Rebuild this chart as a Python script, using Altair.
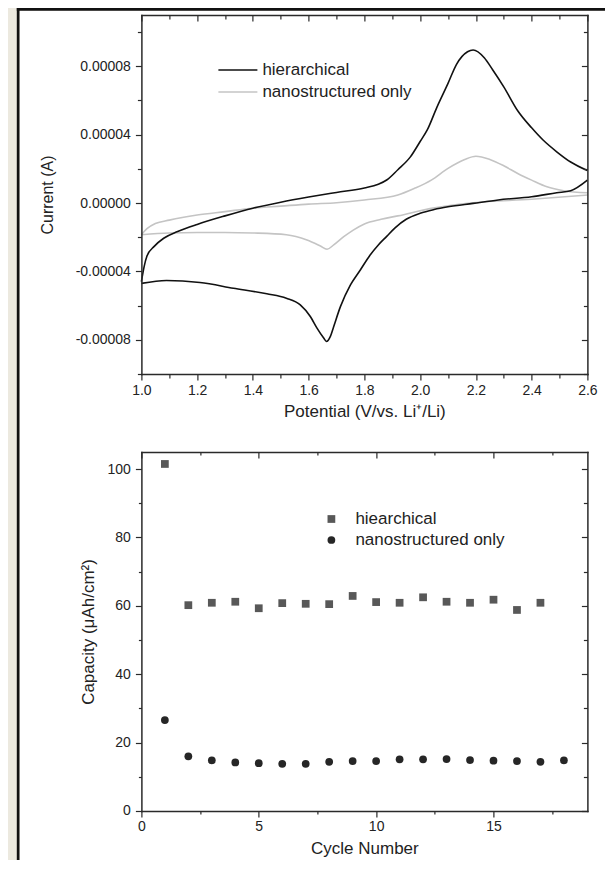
import altair as alt
import pandas as pd

# ---------------- data: cyclic voltammetry (current in units of 1e-5 A) ----------------
cv_series = ["hierarchical", "nanostructured only"]

hier_fwd_v = [1.00, 1.01, 1.02, 1.045, 1.08, 1.13, 1.20, 1.30, 1.40, 1.50, 1.60, 1.70, 1.80, 1.85, 1.88,
              1.92, 1.965, 2.00, 2.025, 2.06, 2.10, 2.13, 2.17, 2.19, 2.23, 2.26, 2.30, 2.35, 2.40, 2.44,
              2.49, 2.54, 2.60]
hier_fwd_i = [-4.6, -3.7, -3.1, -2.55, -2.06, -1.67, -1.25, -0.75, -0.3, 0.05, 0.35, 0.62, 0.88, 1.1, 1.35,
              1.95, 2.7, 3.6, 4.26, 5.6, 7.0, 8.1, 8.85, 8.95, 8.5, 7.8, 6.8, 5.4, 4.4, 3.7,
              3.0, 2.4, 1.9]

hier_rev_v = [1.00, 1.09, 1.21, 1.33, 1.45, 1.52, 1.57, 1.606, 1.63, 1.654, 1.664, 1.678, 1.69, 1.714,
              1.75, 1.786, 1.82, 1.85, 1.88, 1.91, 1.95, 2.00, 2.05, 2.10, 2.19, 2.28, 2.40, 2.49, 2.54, 2.60]
hier_rev_i = [-4.7, -4.53, -4.65, -4.98, -5.31, -5.57, -5.96, -6.64, -7.32, -7.9, -8.1, -7.8, -7.22, -6.06,
              -4.79, -3.9, -3.05, -2.45, -1.95, -1.45, -0.95, -0.6, -0.38, -0.22, -0.02, 0.18, 0.37, 0.6, 0.72,
              1.34]

nano_fwd_v = [1.00, 1.02, 1.05, 1.10, 1.20, 1.30, 1.40, 1.50, 1.60, 1.70, 1.80, 1.92, 1.98, 2.04, 2.10,
              2.16, 2.20, 2.25, 2.30, 2.35, 2.40, 2.455, 2.515, 2.60]
nano_fwd_i = [-1.85, -1.5, -1.2, -1.0, -0.7, -0.5, -0.3, -0.18, -0.06, 0.02, 0.18, 0.47, 0.86, 1.34, 2.03,
              2.55, 2.74, 2.55, 2.18, 1.73, 1.34, 0.95, 0.72, 0.6]

nano_rev_v = [1.00, 1.10, 1.20, 1.30, 1.40, 1.52, 1.594, 1.642, 1.666, 1.69, 1.726, 1.76, 1.80, 1.86,
              1.92, 2.04, 2.19, 2.40, 2.60]
nano_rev_i = [-1.85, -1.75, -1.72, -1.72, -1.75, -1.85, -2.16, -2.51, -2.7, -2.45, -1.97, -1.58, -1.22, -0.95,
              -0.75, -0.31, 0.02, 0.22, 0.47]

# ---------------- data: capacity vs cycle ----------------
cap_series = ["hiearchical", "nanostructured only"]
hier_cycles = [1, 2, 3, 4, 5, 6, 7, 8, 9, 10, 11, 12, 13, 14, 15, 16, 17]
hier_cap = [101.5, 60.2, 60.9, 61.2, 59.3, 60.8, 60.6, 60.5, 62.9, 61.1, 60.9, 62.5, 61.2, 60.9, 61.8, 58.8, 60.9]
nano_cycles = [1, 2, 3, 4, 5, 6, 7, 8, 9, 10, 11, 12, 13, 14, 15, 16, 17, 18]
nano_cap = [26.6, 16.0, 14.8, 14.2, 14.0, 13.8, 13.8, 14.4, 14.6, 14.6, 15.1, 15.1, 15.2, 14.9, 14.7, 14.6, 14.4, 14.8]

# ---------------- tick labels ----------------
cv_x_major = [1.0, 1.2, 1.4, 1.6, 1.8, 2.0, 2.2, 2.4, 2.6]
cv_x_minor = [1.1, 1.3, 1.5, 1.7, 1.9, 2.1, 2.3, 2.5]
cv_y_major = [-0.00008, -0.00004, 0.0, 0.00004, 0.00008]
cv_y_minor = [-0.0001, -0.00006, -0.00002, 0.00002, 0.00006, 0.0001]
cap_x_major = [0, 5, 10, 15]
cap_x_minor = [2.5, 7.5, 12.5, 17.5]
cap_y_major = [0, 20, 40, 60, 80, 100]
cap_y_minor = [10, 30, 50, 70, 90]

# ---------------- tables ----------------
rows = []
for s, b, vs, cs in [
    ("nanostructured only", "n_fwd", nano_fwd_v, nano_fwd_i),
    ("nanostructured only", "n_rev", nano_rev_v, nano_rev_i),
    ("hierarchical", "h_fwd", hier_fwd_v, hier_fwd_i),
    ("hierarchical", "h_rev", hier_rev_v, hier_rev_i),
]:
    for v, c in zip(vs, cs):
        rows.append({"cv_series": s, "branch": b, "V": v, "I": c * 1e-5})
cv_df = pd.DataFrame(rows)

cap_rows = []
for c, v in zip(hier_cycles, hier_cap):
    cap_rows.append({"cap_series": cap_series[0], "cycle": c, "cap": v})
for c, v in zip(nano_cycles, nano_cap):
    cap_rows.append({"cap_series": cap_series[1], "cycle": c, "cap": v})
cap_df = pd.DataFrame(cap_rows)

cv_key_df = pd.DataFrame({"cv_series": cv_series, "row": [0, 1]})
cap_key_df = pd.DataFrame({"cap_series": cap_series, "row": [0, 1]})

FONT = "Liberation Sans"
INK = "#2a2a2a"
TXT = "#222222"
BEIGE = "#ECE9DF"
CV_COLORS = ["#111111", "#c4c4c4"]
CAP_COLORS = ["#585858", "#262626"]
CAP_SHAPES = ["square", "circle"]

# layout of the two stacked panels inside one view
PANEL_H = 359
GAP = 78
TOTAL_H = PANEL_H * 2 + GAP          # 796
LOWER_TOP = PANEL_H + GAP            # 437
RIGHT_EDGE = 464                     # keeps the svg within the 598 px wide page body


def ax(**kw):
    base = dict(domain=False, grid=False, tickColor=INK, tickWidth=1.2, labelFont=FONT,
                labelColor=TXT, titleFont=FONT, titleColor=TXT, titleFontWeight="normal",
                labelFlush=False, zindex=1, domainColor=INK, domainWidth=1.5, domainCap="square",
                minExtent=0)
    base.update(kw)
    return alt.Axis(**base)


def tick_axis(orient, values, size, inward, shift=0):
    kw = dict(orient=orient, values=values, tickSize=size, labels=False, title=None, maxExtent=0)
    off = shift - size if inward else shift
    if off != 0:
        kw["offset"] = off
    return ax(**kw)


def edge_axis(orient, shift=0):
    kw = dict(orient=orient, domain=True, ticks=False, labels=False, title=None, maxExtent=0)
    if shift != 0:
        kw["offset"] = shift
    return ax(**kw)


# ---------------- upper panel: CV ----------------
def xs_cv():
    return alt.Scale(domain=[1.0, 2.6], nice=False, zero=False)


def ys_cv():
    return alt.Scale(domain=[-0.0001, 0.00011], nice=False, zero=False, range=[PANEL_H, 0])


cv_color = alt.Color("cv_series:N", scale=alt.Scale(domain=cv_series, range=CV_COLORS), legend=None)
cv_base = alt.Chart(cv_df)

cv_lines = cv_base.mark_line(strokeWidth=1.6, interpolate="monotone").encode(
    x=alt.X("V:Q", scale=xs_cv(), axis=ax(orient="bottom", offset=-GAP - PANEL_H, values=cv_x_major,
                                          format=".1f", tickSize=6, domain=True, labelFontSize=14,
                                          labelPadding=3, title="Potential (V/vs. Li\u207a/Li)",
                                          titleFontSize=17, titlePadding=6)),
    y=alt.Y("I:Q", scale=ys_cv(), axis=ax(orient="left", values=cv_y_major, domain=True,
                                          labelExpr="replace(format(datum.value, '.5f'), '\u2212', '-')",
                                          tickSize=6, labelFontSize=14, labelPadding=5,
                                          title="Current (A)", titleFontSize=16, titlePadding=20)),
    color=cv_color,
    detail="branch:N",
)


def cv_ghost(xaxis, yaxis):
    return cv_base.mark_line(opacity=0).encode(
        x=alt.X("V:Q", scale=xs_cv(), axis=xaxis),
        y=alt.Y("I:Q", scale=ys_cv(), axis=yaxis),
        detail="branch:N",
    )


# key (legend) of the upper panel
cv_key_y = alt.Y("row:Q", scale=alt.Scale(domain=[0, 1], range=[55, 77], zero=False, nice=False), axis=None)
cv_key_lines = alt.Chart(cv_key_df).mark_rule(strokeWidth=1.6).encode(
    x=alt.value(77), x2=alt.value(116), y=cv_key_y, color=cv_color)
cv_key_text = alt.Chart(cv_key_df).mark_text(align="left", baseline="middle", fontSize=17, font=FONT,
                                             color=TXT).encode(x=alt.value(121), y=cv_key_y,
                                                               text="cv_series:N")

cv_layers = [
    cv_lines,
    cv_ghost(tick_axis("bottom", cv_x_minor, 4, False, -GAP - PANEL_H), tick_axis("left", cv_y_minor, 4, False)),
    cv_ghost(tick_axis("top", cv_x_major, 6, True), tick_axis("right", cv_y_major, 6, True)),
    cv_ghost(tick_axis("top", cv_x_minor, 4, True), tick_axis("right", cv_y_minor, 4, True)),
    cv_ghost(edge_axis("top"), edge_axis("right")),
    cv_key_lines,
    cv_key_text,
]

# ---------------- lower panel: capacity ----------------
def xs_cap():
    return alt.Scale(domain=[0, 19], nice=False, zero=False)


def ys_cap():
    return alt.Scale(domain=[0, 105], nice=False, zero=False, range=[TOTAL_H, LOWER_TOP])


cap_color = alt.Color("cap_series:N", scale=alt.Scale(domain=cap_series, range=CAP_COLORS), legend=None)
cap_shape = alt.Shape("cap_series:N", scale=alt.Scale(domain=cap_series, range=CAP_SHAPES), legend=None)
cap_base = alt.Chart(cap_df)

cap_pts = cap_base.mark_point(filled=True, opacity=1, size=60).encode(
    x=alt.X("cycle:Q", scale=xs_cap(), axis=ax(orient="bottom", values=cap_x_major, tickSize=6, domain=True,
                                               labelFontSize=14, labelPadding=3,
                                               title="Cycle Number", titleFontSize=17, titlePadding=7)),
    y=alt.Y("cap:Q", scale=ys_cap(), axis=ax(orient="left", values=cap_y_major, tickSize=6, domain=True,
                                             labelFontSize=14, labelPadding=5,
                                             title="Capacity (\u03bcAh/cm\u00b2)", titleFontSize=17,
                                             titlePadding=10)),
    color=cap_color,
    shape=cap_shape,
)


def cap_ghost(xaxis, yaxis):
    return cap_base.mark_point(opacity=0).encode(
        x=alt.X("cycle:Q", scale=xs_cap(), axis=xaxis),
        y=alt.Y("cap:Q", scale=ys_cap(), axis=yaxis),
    )


cap_key_y = alt.Y("row:Q", scale=alt.Scale(domain=[0, 1], range=[LOWER_TOP + 67, LOWER_TOP + 88],
                                           zero=False, nice=False), axis=None)
cap_key_pts = alt.Chart(cap_key_df).mark_point(filled=True, opacity=1, size=60).encode(
    x=alt.value(190), y=cap_key_y, color=cap_color, shape=cap_shape)
cap_key_text = alt.Chart(cap_key_df).mark_text(align="left", baseline="middle", fontSize=17, font=FONT,
                                               color=TXT).encode(x=alt.value(214), y=cap_key_y,
                                                                 text="cap_series:N")

cap_layers = [
    cap_pts,
    cap_ghost(tick_axis("bottom", cap_x_minor, 3, False), tick_axis("left", cap_y_minor, 3, False)),
    cap_ghost(tick_axis("top", cap_x_major, 6, True, -LOWER_TOP), tick_axis("right", cap_y_major, 6, True)),
    cap_ghost(tick_axis("top", cap_x_minor, 3, True, -LOWER_TOP), tick_axis("right", cap_y_minor, 4, True)),
    cap_ghost(edge_axis("top", -LOWER_TOP), edge_axis("right")),
    cap_key_pts,
    cap_key_text,
]

# ---------------- page frame (decoration outside the panels) ----------------
deco = alt.Data(values=[{"k": 0}])
paper = alt.Chart(deco).mark_rect(color="white").encode(
    x=alt.value(-121.9), x2=alt.value(RIGHT_EDGE), y=alt.value(-4.3), y2=alt.value(845))
frame_v = alt.Chart(deco).mark_rect(color="#111111").encode(
    x=alt.value(-124.6), x2=alt.value(-121.9), y=alt.value(-7), y2=alt.value(845))
frame_h = alt.Chart(deco).mark_rect(color="#111111").encode(
    x=alt.value(-124.6), x2=alt.value(RIGHT_EDGE), y=alt.value(-7), y2=alt.value(-4.3))

chart = alt.layer(paper, frame_v, frame_h, *cv_layers, *cap_layers).resolve_scale(
    x="independent", y="independent", color="independent", shape="independent"
).resolve_axis(x="independent", y="independent").properties(
    width=446, height=TOTAL_H,
    padding={"left": 8.4, "top": 0, "right": 0, "bottom": 0},
    background=BEIGE,
).configure_view(strokeWidth=0).configure(font=FONT)

chart.save("out.html", embed_options={"renderer": "svg", "actions": False})
